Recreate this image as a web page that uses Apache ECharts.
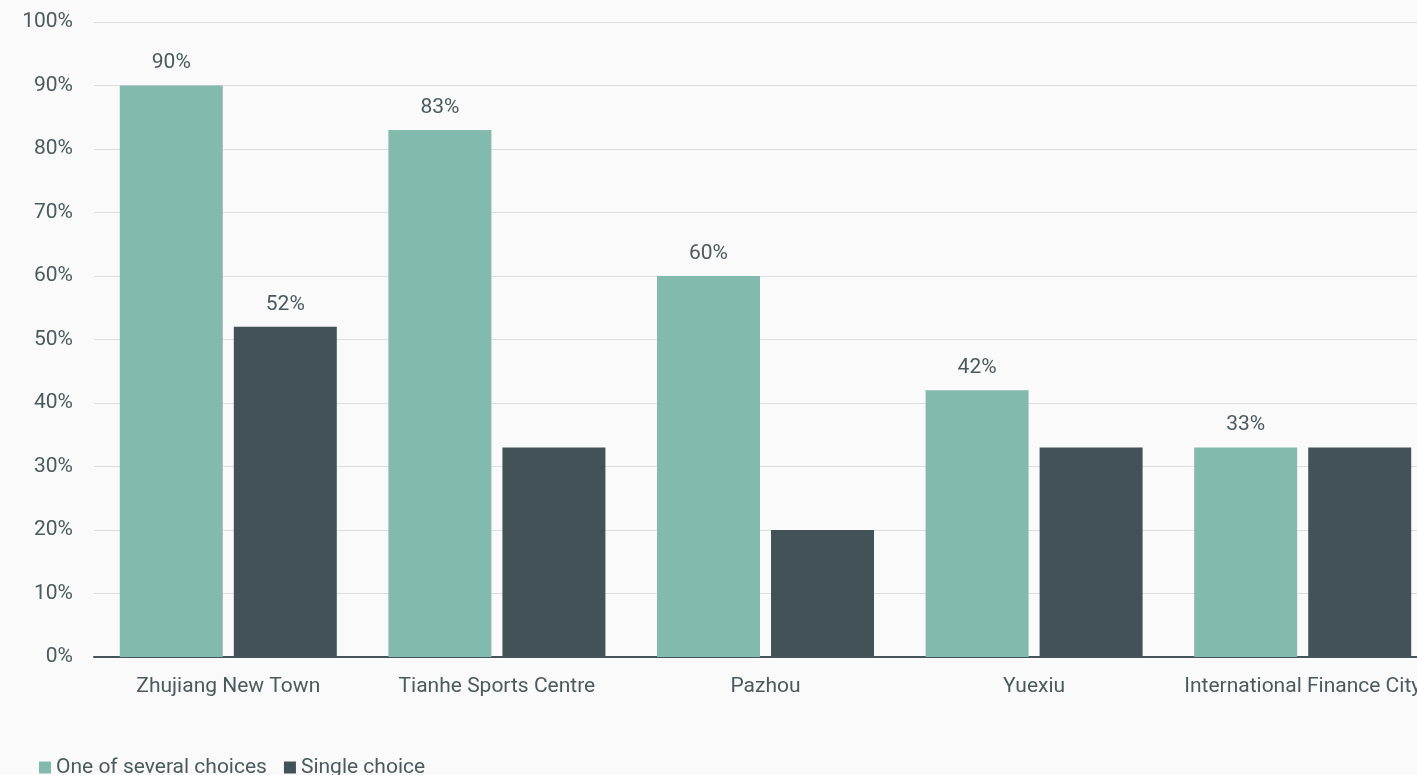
<!DOCTYPE html>
<html>
<head>
<meta charset="utf-8">
<style>
  html, body { margin: 0; padding: 0; background: #fafafa; }
  #chart { width: 1417px; height: 775px; }
</style>
<script src="https://cdn.jsdelivr.net/npm/echarts@6/dist/echarts.min.js"></script>
</head>
<body>
<div id="chart"></div>
<script>
// Share of respondents choosing each district
const categories = ['Zhujiang New Town', 'Tianhe Sports Centre', 'Pazhou', 'Yuexiu', 'International Finance City'];
const severalChoices = [90, 83, 60, 42, 33];
const singleChoice = [52, 33, 20, 33, 33];
// Which bars of the single-choice series carry a value label
const singleLabelShown = [true, false, false, false, false];
const yTicks = [0, 10, 20, 30, 40, 50, 60, 70, 80, 90, 100];

const textColor = '#4a5a5e';
const fontFamily = 'Roboto, "Noto Sans", sans-serif';
const fontSize = 21;

const chart = echarts.init(document.getElementById('chart'), null, { renderer: 'canvas' });

chart.setOption({
  backgroundColor: '#fafafa',
  animation: false,
  textStyle: { fontFamily: fontFamily },
  grid: {
    left: 94, top: 22, width: 1343, height: 635,
    containLabel: false,
    outerBoundsMode: 'none'
  },
  legend: {
    left: 39,
    top: 757,
    padding: 0,
    itemWidth: 12,
    itemHeight: 12,
    itemGap: 17,
    icon: 'rect',
    textStyle: { fontSize: fontSize, color: textColor, fontFamily: fontFamily, padding: [0, 0, 0, 0] },
    data: ['One of several choices', 'Single choice']
  },
  xAxis: {
    type: 'category',
    data: categories,
    axisLine: { lineStyle: { color: '#44545a', width: 2 } },
    axisTick: { show: false },
    axisLabel: { fontSize: fontSize, color: textColor, margin: 19, interval: 0, hideOverlap: false }
  },
  yAxis: {
    type: 'value',
    min: yTicks[0],
    max: yTicks[yTicks.length - 1],
    interval: 10,
    axisLine: { show: false },
    axisTick: { show: false },
    splitLine: { lineStyle: { color: '#dedede', width: 1 } },
    axisLabel: {
      fontSize: fontSize, color: textColor, margin: 21,
      verticalAlign: 'middle',
      lineHeight: 21,
      padding: [6, 0, 0, 0],
      formatter: '{value}%'
    }
  },
  series: [
    {
      name: 'One of several choices',
      type: 'bar',
      data: severalChoices,
      barWidth: 103,
      barGap: '10.7%',
      itemStyle: { color: '#82bbad' },
      label: {
        show: true,
        position: 'top',
        distance: 12,
        fontSize: fontSize,
        color: textColor,
        formatter: '{c}%'
      }
    },
    {
      name: 'Single choice',
      type: 'bar',
      data: singleChoice.map((v, i) => ({
        value: v,
        label: { show: singleLabelShown[i] }
      })),
      barWidth: 103,
      barGap: '10.7%',
      itemStyle: { color: '#435256' },
      label: {
        position: 'top',
        distance: 12,
        fontSize: fontSize,
        color: textColor,
        formatter: '{c}%'
      }
    }
  ]
});
</script>
</body>
</html>
